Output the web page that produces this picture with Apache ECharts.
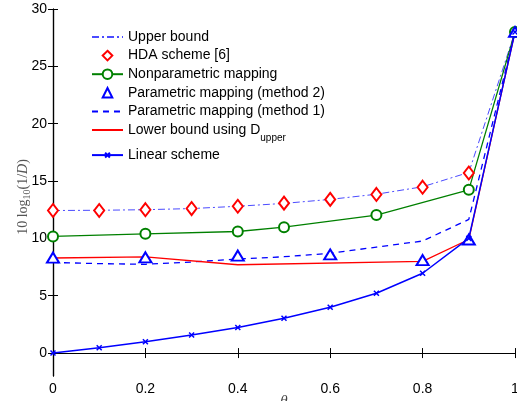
<!DOCTYPE html>
<html>
<head>
<meta charset="utf-8">
<script src="https://cdn.jsdelivr.net/npm/echarts@6/dist/echarts.min.js"></script>
<style>
  html, body { margin: 0; padding: 0; background: #fff; }
  #chart { width: 517px; height: 401px; }
</style>
</head>
<body>
<div id="chart"></div>
<script>
// x positions
const xFull = [0, 0.1, 0.2, 0.3, 0.4, 0.5, 0.6, 0.7, 0.8, 0.9, 1];
const xHda = [0, 0.1, 0.2, 0.3, 0.4, 0.5, 0.6, 0.7, 0.8, 0.9];
const xNonpar = [0, 0.2, 0.4, 0.5, 0.7, 0.9, 1];
const xMethod2 = [0, 0.2, 0.4, 0.6, 0.8, 0.9, 1];
const xLower = [0, 0.2, 0.4, 0.8, 0.9, 1];

// values (dB)
const upperBound = [12.43, 12.45, 12.5, 12.6, 12.8, 13.05, 13.4, 13.85, 14.5, 15.75, 28];
const hdaScheme = [12.43, 12.43, 12.5, 12.6, 12.8, 13.07, 13.4, 13.83, 14.46, 15.7];
const nonparametric = [10.17, 10.4, 10.6, 10.98, 12.03, 14.23, 28];
const method2 = [8.32, 8.35, 8.5, 8.6, 8.1, 9.9, 28];
const method1 = [7.9, 7.8, 7.74, 7.94, 8.2, 8.4, 8.7, 9.24, 9.77, 11.65, 28];
const lowerBound = [8.29, 8.38, 7.7, 8.0, 9.9, 28];
const linearScheme = [0, 0.46, 0.98, 1.57, 2.23, 3.04, 4.0, 5.22, 6.96, 10.0, 28];

const yTicks = [0, 5, 10, 15, 20, 25, 30];

const pairs = (xs, ys) => xs.map((x, i) => [x, ys[i]]);

const chart = echarts.init(document.getElementById("chart"));
const font = "Liberation Sans, Arial, Helvetica, sans-serif";
const serif = "Liberation Serif, Times New Roman, serif";

const tickStyle = { lineStyle: { color: "#000", width: 1 } };
// hide the default circle that the legend adds for line-only series
const noMarker = { color: "rgba(0,0,0,0)", borderColor: "rgba(0,0,0,0)", borderWidth: 0 };

const option = {
  animation: false,
  backgroundColor: "#fff",
  grid: { left: 53, right: 2, top: 9, bottom: 25, outerBoundsMode: "none", containLabel: false },
  legend: {
    orient: "vertical",
    left: 86,
    top: 25,
    itemWidth: 31,
    itemHeight: 12,
    itemGap: 4.6,
    textStyle: {
      fontFamily: font,
      fontSize: 14,
      color: "#000",
      rich: {
        n: { fontFamily: font, fontSize: 14, color: "#000" },
        sub: { fontFamily: font, fontSize: 10, color: "#000", verticalAlign: "bottom", padding: [17, 0, 0, 0] }
      }
    },
    formatter: (name) => name === "Lower bound using D_upper"
      ? "{n|Lower bound using D}{sub|upper}"
      : name,
    data: [
      { name: "Upper bound", itemStyle: noMarker },
      "HDA scheme [6]",
      "Nonparametric mapping",
      "Parametric mapping (method 2)",
      { name: "Parametric mapping (method 1)", itemStyle: noMarker },
      { name: "Lower bound using D_upper", itemStyle: noMarker },
      "Linear scheme"
    ]
  },
  xAxis: [
    {
      type: "value",
      min: 0,
      max: 1,
      interval: 0.2,
      name: "θ",
      nameLocation: "middle",
      nameGap: 18,
      nameMoveOverlap: false,
      nameTextStyle: { fontFamily: serif, fontStyle: "italic", fontSize: 15, color: "#444" },
      axisLine: { lineStyle: { color: "#000", width: 1.2 } },
      axisTick: { inside: true, length: 5, ...tickStyle },
      axisLabel: { color: "#000", fontFamily: font, fontSize: 14, margin: 6 },
      splitLine: { show: false }
    },
    {
      type: "value",
      position: "top",
      min: 0,
      max: 1,
      interval: 0.2,
      axisLine: { show: true, lineStyle: { color: "#000", width: 1.2 } },
      axisTick: { inside: true, length: 5, ...tickStyle },
      axisLabel: { show: false },
      splitLine: { show: false }
    }
  ],
  yAxis: [
    {
      type: "value",
      min: -2,
      max: 30,
      name: "{n|10 log}{s|10}{n|(1/}{i|D}{n|)}",
      nameLocation: "middle",
      nameGap: 21,
      nameMoveOverlap: false,
      nameTextStyle: {
        fontSize: 14,
        padding: [0, 9, 0, 0],
        rich: {
          n: { fontFamily: serif, fontSize: 14, color: "#555" },
          s: { fontFamily: serif, fontSize: 10, color: "#555", verticalAlign: "bottom", padding: [8, 0, 0, 0] },
          i: { fontFamily: serif, fontStyle: "italic", fontSize: 14, color: "#555" }
        }
      },
      axisLine: { show: true, lineStyle: { color: "#000", width: 1.2 } },
      axisTick: { inside: true, length: 5, customValues: yTicks, ...tickStyle },
      axisLabel: { color: "#000", fontFamily: font, fontSize: 14, margin: 6, customValues: yTicks },
      splitLine: { show: false }
    },
    {
      type: "value",
      position: "right",
      min: -2,
      max: 30,
      axisLine: { show: true, lineStyle: { color: "#000", width: 1.2 } },
      axisTick: { inside: true, length: 5, customValues: yTicks, ...tickStyle },
      axisLabel: { show: false, customValues: yTicks },
      splitLine: { show: false }
    }
  ],
  series: [
    {
      name: "Upper bound",
      type: "line",
      data: pairs(xFull, upperBound),
      symbol: "none",
      lineStyle: { color: "#4b4bff", width: 1, type: [7, 3, 2, 3] },
      itemStyle: { color: "#4b4bff" }
    },
    {
      name: "HDA scheme [6]",
      type: "line",
      data: pairs(xHda, hdaScheme),
      symbol: "emptyDiamond",
      symbolSize: [10, 13],
      lineStyle: { width: 0, opacity: 0 },
      itemStyle: { color: "#ff0000", borderWidth: 1.3 }
    },
    {
      name: "Nonparametric mapping",
      type: "line",
      data: pairs(xNonpar, nonparametric),
      symbol: "emptyCircle",
      symbolSize: 10,
      lineStyle: { color: "#008000", width: 1.3 },
      itemStyle: { color: "#008000", borderWidth: 1.3 }
    },
    {
      name: "Parametric mapping (method 2)",
      type: "line",
      data: pairs(xMethod2, method2),
      symbol: "emptyTriangle",
      symbolSize: [12, 10],
      lineStyle: { width: 0, opacity: 0 },
      itemStyle: { color: "#0000ff", borderWidth: 1.5 }
    },
    {
      name: "Parametric mapping (method 1)",
      type: "line",
      data: pairs(xFull, method1),
      symbol: "none",
      lineStyle: { color: "#0000ff", width: 1.3, type: [6, 5] },
      itemStyle: { color: "#0000ff" }
    },
    {
      name: "Lower bound using D_upper",
      type: "line",
      data: pairs(xLower, lowerBound),
      symbol: "none",
      lineStyle: { color: "#ff0000", width: 1.3 },
      itemStyle: { color: "#ff0000" }
    },
    {
      name: "Linear scheme",
      type: "line",
      data: pairs(xFull, linearScheme),
      // padded cross so the legend icon stays small
      symbol: "path://M-5,-5M0,0L10,10M10,0L0,10M15,15",
      symbolSize: 10,
      lineStyle: { color: "#0000ff", width: 1.5 },
      itemStyle: { color: "#0000ff", borderColor: "#0000ff", borderWidth: 1.5 }
    }
  ]
};

chart.setOption(option);
</script>
</body>
</html>
